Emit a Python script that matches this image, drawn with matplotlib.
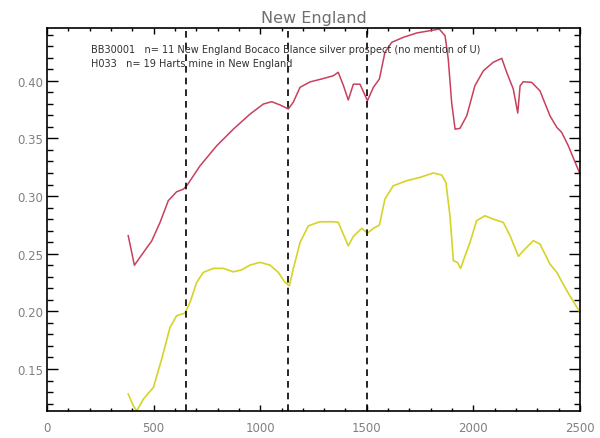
import numpy as np
import matplotlib.pyplot as plt
from matplotlib.ticker import MultipleLocator, FormatStrFormatter

# spectra (wavelength nm, reflectance)
red_x = [381, 410, 452, 491, 530, 569, 608, 640, 658, 717, 796, 874, 952,
         1015, 1054, 1093, 1132, 1155, 1187, 1234, 1288, 1343, 1366, 1390,
         1413, 1437, 1468, 1503, 1531, 1559, 1585, 1617, 1671, 1734, 1796,
         1840, 1867, 1882, 1898, 1914, 1937, 1969, 2007, 2047, 2093, 2133,
         2156, 2187, 2208, 2219, 2234, 2273, 2312, 2359, 2391, 2414, 2445,
         2500]
red_y = [0.2656, 0.240, 0.251, 0.261, 0.277, 0.296, 0.3037, 0.306, 0.3096,
         0.326, 0.3436, 0.358, 0.371, 0.3798, 0.3818, 0.379, 0.3755, 0.3813,
         0.3943, 0.399, 0.4015, 0.4043, 0.4073, 0.396, 0.3833, 0.397, 0.397,
         0.3827, 0.3943, 0.4015, 0.4246, 0.4333, 0.4376, 0.4414, 0.4434,
         0.4448, 0.439, 0.4188, 0.381, 0.358, 0.3587, 0.3697, 0.3957, 0.4087,
         0.416, 0.4194, 0.4073, 0.3928, 0.372, 0.3957, 0.3991, 0.3986,
         0.3913, 0.3696, 0.3596, 0.3552, 0.3436, 0.319]

yel_x = [381, 405, 421, 452, 499, 538, 577, 608, 647, 671, 702, 733, 780,
         827, 874, 913, 952, 999, 1046, 1085, 1116, 1137, 1155, 1187, 1226,
         1280, 1343, 1366, 1413, 1437, 1476, 1503, 1531, 1559, 1585, 1624,
         1687, 1750, 1812, 1851, 1871, 1890, 1906, 1925, 1940, 1961, 1984,
         2015, 2054, 2093, 2140, 2172, 2211, 2234, 2281, 2312, 2359, 2391,
         2438, 2500]
yel_y = [0.1283, 0.1181, 0.1138, 0.1239, 0.134, 0.1586, 0.1861, 0.1962,
         0.1985, 0.2078, 0.2251, 0.2338, 0.2373, 0.2373, 0.2343, 0.236,
         0.2401, 0.2425, 0.2401, 0.2338, 0.2251, 0.2222, 0.2367, 0.2598,
         0.2742, 0.2777, 0.2777, 0.2772, 0.2569, 0.265, 0.272, 0.2679, 0.272,
         0.2748, 0.2974, 0.3089, 0.3133, 0.3162, 0.32, 0.3182, 0.3119,
         0.2829, 0.2439, 0.2425, 0.2373, 0.2482, 0.2598, 0.2786, 0.2829,
         0.28, 0.2772, 0.2656, 0.2477, 0.2526, 0.2613, 0.2584, 0.241, 0.2338,
         0.2179, 0.1991]

marks = [650, 1130, 1500]
labels = ['BB30001   n= 11 New England Bocaco Blance silver prospect (no mention of U)',
          'H033   n= 19 Harts mine in New England']

fig = plt.figure(figsize=(6, 4.39), dpi=100)
ax = fig.add_axes([0.0783, 0.0615, 0.8884, 0.8724])

ax.plot(red_x, red_y, color='#c8405c', lw=1.1)
ax.plot(yel_x, yel_y, color='#d4d428', lw=1.2)
for m in marks:
    ax.axvline(m, color='black', ls=(0, (4, 3)), lw=1.2)

ax.set_xlim(0, 2500)
ax.set_ylim(0.1136, 0.4457)
ax.xaxis.set_major_locator(MultipleLocator(500))
ax.xaxis.set_minor_locator(MultipleLocator(100))
ax.yaxis.set_major_locator(MultipleLocator(0.05))
ax.yaxis.set_minor_locator(MultipleLocator(0.01))
ax.yaxis.set_major_formatter(FormatStrFormatter('%.2f'))

ax.tick_params(which='both', direction='in', top=True, right=True,
               labelcolor='#808080', labelsize=8.5, width=1.0)
ax.tick_params(axis='x', which='major', length=4.5, pad=7)
ax.tick_params(axis='x', which='minor', length=2.5)
ax.tick_params(axis='y', which='major', length=8, pad=3)
ax.tick_params(axis='y', which='minor', length=4.5)
for s in ax.spines.values():
    s.set_linewidth(1.2)

ax.set_title('New England', color='#707070', fontsize=11.5, pad=4)
ax.text(0.0826, 0.945, labels[0], transform=ax.transAxes, fontsize=7,
        color='#303030', va='center')
ax.text(0.0826, 0.909, labels[1], transform=ax.transAxes, fontsize=7,
        color='#303030', va='center')

fig.savefig('out.png', dpi=100)
